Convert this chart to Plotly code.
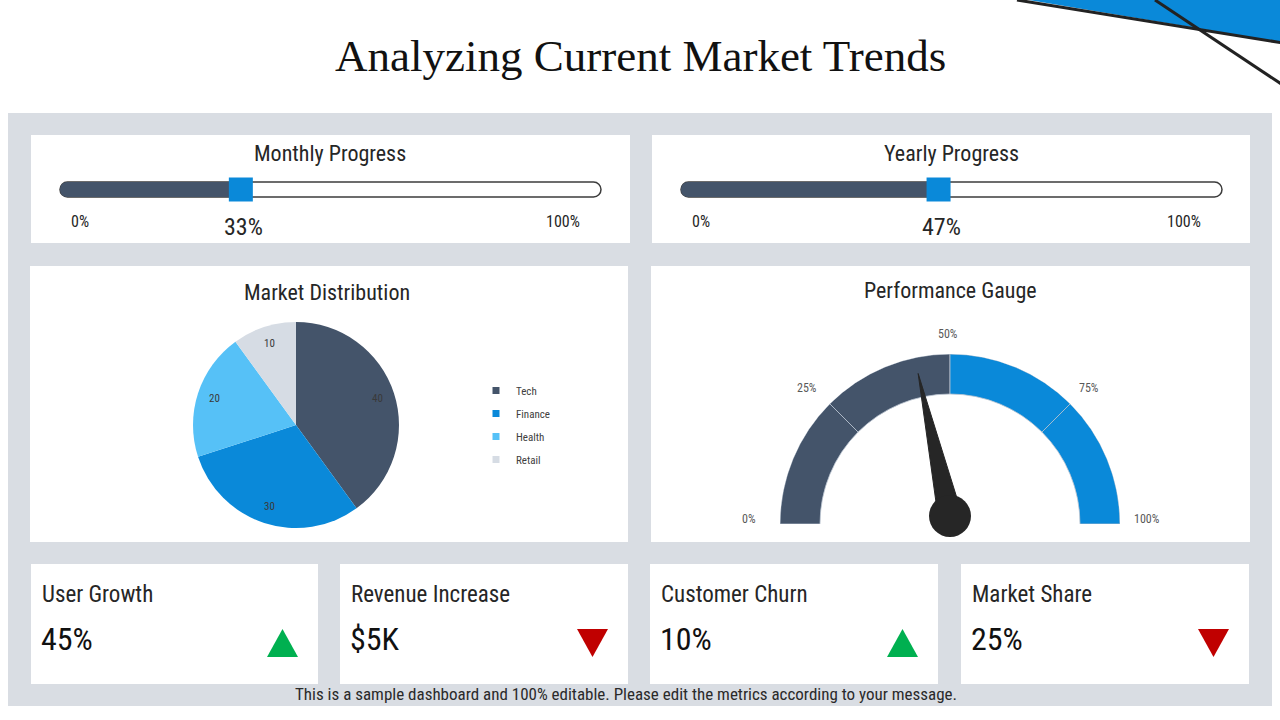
import math
import plotly.graph_objects as go

W, H = 1280, 720

def px(x):
    return x / W

def py(y):
    return 1 - y / H

# ---------------- data ----------------
title_text = "Analyzing Current Market Trends"
footer_text = "This is a sample dashboard and 100% editable. Please edit the metrics according to your message."

progress_titles = ["Monthly Progress", "Yearly Progress"]
progress_values = [33, 47]
progress_min_label = "0%"
progress_max_label = "100%"

pie_title = "Market Distribution"
pie_labels = ["Tech", "Finance", "Health", "Retail"]
pie_values = [40, 30, 20, 10]

gauge_title = "Performance Gauge"
gauge_value = 43
gauge_band_starts = [0, 25, 50, 75]
gauge_band_ends = [25, 50, 75, 100]
gauge_ticks = [0, 25, 50, 75, 100]
gauge_tick_labels = ["0%", "25%", "50%", "75%", "100%"]

kpi_titles = ["User Growth", "Revenue Increase", "Customer Churn", "Market Share"]
kpi_values = ["45%", "$5K", "10%", "25%"]
kpi_trends = ["up", "down", "up", "down"]

# ---------------- styles ----------------
DARK = "#44546A"
BLUE = "#0A89D9"
LIGHTBLUE = "#56C1F7"
PALE = "#D6DCE4"
GRAY_BG = "#D9DDE3"
TXT = "#262626"
FONT = "'Liberation Sans Narrow', 'Roboto Condensed', 'DejaVu Sans Condensed', 'Arial Narrow', sans-serif"
SERIF = "'Liberation Serif', 'DejaVu Serif', serif"
pie_colors = [DARK, BLUE, LIGHTBLUE, PALE]
gauge_band_colors = [DARK, DARK, BLUE, BLUE]
GREEN = "#00B050"
RED = "#C00000"

fig = go.Figure()
shapes = []
annotations = []

def rect(x0, y0, x1, y1, color, layer="below"):
    shapes.append(dict(type="rect", xref="paper", yref="paper",
                       x0=px(x0), x1=px(x1), y0=py(y1), y1=py(y0),
                       fillcolor=color, line=dict(width=0), layer=layer))

def text(x, y, s, size, color=TXT, xanchor="center", yanchor="middle", family=FONT):
    annotations.append(dict(xref="paper", yref="paper", x=px(x), y=py(y), text=s,
                            showarrow=False, xanchor=xanchor, yanchor=yanchor,
                            font=dict(family=family, size=size, color=color)))

# background panel and cards
rect(8, 113, 1272, 706, GRAY_BG)
rect(31, 135, 630, 243, "white")
rect(652, 135, 1250, 243, "white")
rect(30, 266, 628, 542, "white")
rect(651, 266, 1250, 542, "white")
kpi_left = [31, 340, 650, 961]
kpi_right = [318, 628, 938, 1249]
for l, r in zip(kpi_left, kpi_right):
    rect(l, 564, r, 684, "white")

# top-right decoration
def path_pts(pts):
    return "M " + " L ".join(f"{px(x)},{py(y)}" for x, y in pts) + " Z"

shapes.append(dict(type="path", xref="paper", yref="paper",
                   path=path_pts([(1017, -2), (1282, -2), (1282, 42.5)]),
                   fillcolor=BLUE, line=dict(width=0), layer="above"))
shapes.append(dict(type="line", xref="paper", yref="paper",
                   x0=px(1017), y0=py(0), x1=px(1282), y1=py(42.8),
                   line=dict(color="#222222", width=3), layer="above"))
shapes.append(dict(type="line", xref="paper", yref="paper",
                   x0=px(1155), y0=py(0), x1=px(1282), y1=py(84.5),
                   line=dict(color="#222222", width=3), layer="above"))

# title & footer
text(640, 56, title_text, 45, color="#111111", family=SERIF)
text(626, 694, footer_text, 17, color="#2A2A2A")

# ---------------- progress bars ----------------
track_left = [60, 681]
track_right = [601, 1222]
track_top, track_bot = 182, 197
title_cx = [330, 951]
scale_px = 548  # pixels per 100 %
k = 0.5523

for i, (t, v) in enumerate(zip(progress_titles, progress_values)):
    xl, xr = track_left[i], track_right[i]
    rr = (track_bot - track_top) / 2
    cy = (track_top + track_bot) / 2
    a = xl + rr
    b = xr - rr
    pts = [
        f"M {px(a)},{py(track_top)}",
        f"L {px(b)},{py(track_top)}",
        f"C {px(b + k*rr)},{py(track_top)} {px(xr)},{py(cy - k*rr)} {px(xr)},{py(cy)}",
        f"C {px(xr)},{py(cy + k*rr)} {px(b + k*rr)},{py(track_bot)} {px(b)},{py(track_bot)}",
        f"L {px(a)},{py(track_bot)}",
        f"C {px(a - k*rr)},{py(track_bot)} {px(xl)},{py(cy + k*rr)} {px(xl)},{py(cy)}",
        f"C {px(xl)},{py(cy - k*rr)} {px(a - k*rr)},{py(track_top)} {px(a)},{py(track_top)} Z",
    ]
    shapes.append(dict(type="path", xref="paper", yref="paper", path=" ".join(pts),
                       fillcolor="white", line=dict(color="#3C3C3C", width=1.5), layer="below"))

    xa = "x" if i == 0 else "x2"
    ya = "y" if i == 0 else "y2"
    # drawn from the value back to 0 so the rounded end sits on the track's left end
    fig.add_trace(go.Bar(x=[-v], base=[v], y=[0], orientation="h", width=1,
                         marker=dict(color=DARK, cornerradius="50%", line=dict(width=0)),
                         xaxis=xa, yaxis=ya, showlegend=False, hoverinfo="skip"))
    fig.add_trace(go.Scatter(x=[v], y=[0], mode="markers",
                             marker=dict(symbol="square", size=24, color=BLUE, line=dict(width=0)),
                             xaxis=xa, yaxis=ya, showlegend=False, cliponaxis=False,
                             hoverinfo="skip"))
    text(title_cx[i], 153, t, 22)
    text(xl + 20, 221, progress_min_label, 16)
    text(xr - 38, 221, progress_max_label, 16)
    text(xl + scale_px * v / 100 + 3, 227, f"{v}%", 24)

axis_common = dict(visible=False, fixedrange=True)
fig.update_layout(
    xaxis=dict(domain=[px(60), px(60 + scale_px)], range=[0, 100], **axis_common),
    yaxis=dict(domain=[py(197), py(182)], range=[-0.5, 0.5], **axis_common),
    xaxis2=dict(domain=[px(681), px(681 + scale_px)], range=[0, 100], **axis_common),
    yaxis2=dict(domain=[py(197), py(182)], range=[-0.5, 0.5], anchor="x2", **axis_common),
)

# ---------------- pie ----------------
text(327, 292, pie_title, 22)
pcx, pcy, pr = 296, 425, 103
fig.add_trace(go.Pie(labels=pie_labels, values=pie_values, sort=False,
                     direction="clockwise", rotation=0,
                     marker=dict(colors=pie_colors, line=dict(width=0)),
                     textinfo="none",
                     domain=dict(x=[px(pcx - pr), px(pcx + pr)], y=[py(pcy + pr), py(pcy - pr)]),
                     showlegend=False, hoverinfo="label+value"))
# slice value labels near the outer edge, placed from the data
total = sum(pie_values)
cum = 0
for val in pie_values:
    mid = (cum + val / 2) / total * 2 * math.pi
    cum += val
    lr = 0.835 * pr
    text(pcx + lr * math.sin(mid), pcy - lr * math.cos(mid), str(val), 11, color="#3A3A3A")
# legend entries
for lab, col in zip(pie_labels, pie_colors):
    fig.add_trace(go.Scatter(x=[None], y=[None], mode="markers", name=lab,
                             legendgroup=lab,
                             marker=dict(symbol="square", size=7, color=col),
                             xaxis="x", yaxis="y", showlegend=True))

# ---------------- gauge ----------------
text(950, 290, gauge_title, 22)
gcx, gcy, gr, ginner = 950, 524, 170, 130
pivot_y = 516
scale = 180 / 100
fig.add_trace(go.Barpolar(
    theta=[(s + e) / 2 * scale for s, e in zip(gauge_band_starts, gauge_band_ends)],
    width=[(e - s) * scale for s, e in zip(gauge_band_starts, gauge_band_ends)],
    r=[1 - ginner / gr] * len(gauge_band_starts),
    base=[ginner / gr] * len(gauge_band_starts),
    marker=dict(color=gauge_band_colors, line=dict(color="#B9C3CF", width=0.8)),
    subplot="polar", showlegend=False, hoverinfo="skip"))
th = gauge_value * scale
fig.add_trace(go.Scatterpolar(
    r=[146 / gr, 12 / gr, 12 / gr, 146 / gr],
    theta=[th, th + 90, th - 90, th],
    mode="lines", fill="toself", fillcolor="#262626", line=dict(color="#262626", width=1),
    subplot="polar2", showlegend=False, hoverinfo="skip"))
fig.add_trace(go.Scatterpolar(
    r=[0], theta=[th], mode="markers",
    marker=dict(size=42, color="#262626"), cliponaxis=False,
    subplot="polar2", showlegend=False, hoverinfo="skip"))

# gauge tick labels placed around the arc from the tick values
lab_rx, lab_ry = 199, 185
for tv, tl in zip(gauge_ticks, gauge_tick_labels):
    ang = math.pi - tv * scale * math.pi / 180
    text(gcx - 2 + lab_rx * math.cos(ang), gcy - 5 - lab_ry * math.sin(ang), tl, 12, color="#595959")

polar_common = dict(
    sector=[0, 180], hole=0, bgcolor="rgba(0,0,0,0)",
    radialaxis=dict(visible=False, range=[0, 1]),
    angularaxis=dict(visible=False, rotation=180, direction="clockwise", thetaunit="degrees"),
)
fig.update_layout(
    polar=dict(domain=dict(x=[px(gcx - gr), px(gcx + gr)], y=[py(gcy), py(gcy - gr)]),
               **polar_common),
    polar2=dict(domain=dict(x=[px(gcx - gr), px(gcx + gr)], y=[py(pivot_y), py(pivot_y - gr)]),
                **polar_common),
)

# ---------------- KPI cards ----------------
for i, (t, v, tr) in enumerate(zip(kpi_titles, kpi_values, kpi_trends)):
    l, r = kpi_left[i], kpi_right[i]
    text(l + 9, 594, t, 23, xanchor="left")
    text(l + 8, 639, v, 32, color="#111111", xanchor="left")
    x1 = r - 20
    x0 = x1 - 31
    xm = (x0 + x1) / 2
    if tr == "up":
        pts = [(x0, 657), (x1, 657), (xm, 629)]
        col = GREEN
    else:
        pts = [(x0, 629), (x1, 629), (xm, 657)]
        col = RED
    shapes.append(dict(type="path", xref="paper", yref="paper", path=path_pts(pts),
                       fillcolor=col, line=dict(width=0), layer="above"))

fig.update_layout(
    width=W, height=H, margin=dict(l=0, r=0, t=0, b=0, pad=0),
    paper_bgcolor="white", plot_bgcolor="rgba(0,0,0,0)",
    shapes=shapes, annotations=annotations,
    showlegend=True,
    legend=dict(x=px(476), y=py(376), xanchor="left", yanchor="top",
                font=dict(family=FONT, size=11, color="#404040"),
                tracegroupgap=4, bgcolor="rgba(0,0,0,0)", itemclick=False, itemdoubleclick=False),
    font=dict(family=FONT),
)

fig.write_html("out.html", config={"displayModeBar": False})
